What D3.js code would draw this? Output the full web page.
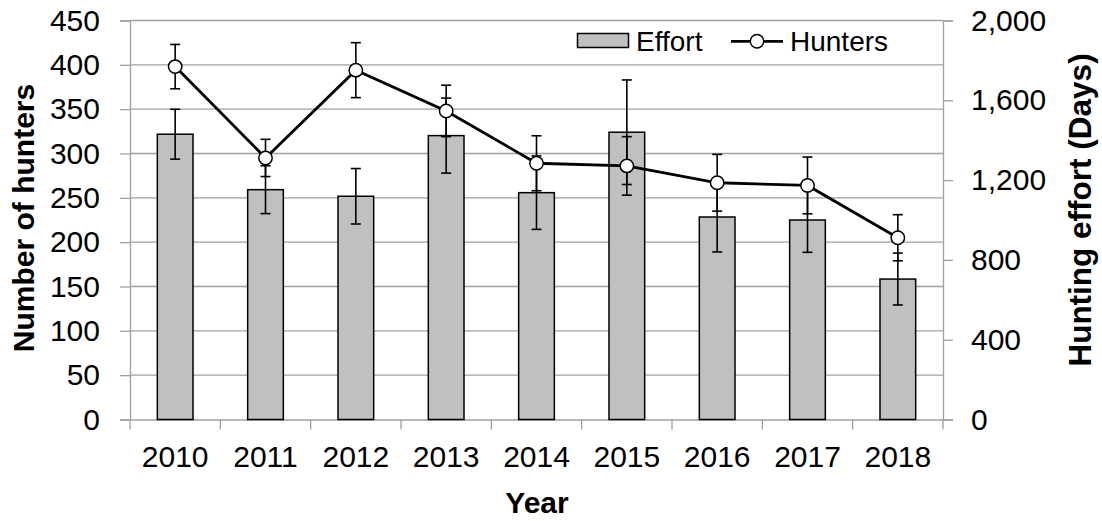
<!DOCTYPE html>
<html>
<head>
<meta charset="utf-8">
<script src="https://cdn.jsdelivr.net/npm/d3@7"></script>
<style>
  html, body { margin: 0; padding: 0; background: #fff; }
  svg text { font-family: "Liberation Sans", Arial, sans-serif; fill: #000; }
</style>
</head>
<body>
<svg id="chart" width="1102" height="521"></svg>
<script>
// Hunting season summary, 2010–2018
const years = ["2010", "2011", "2012", "2013", "2014", "2015", "2016", "2017", "2018"];
const hunters = [398, 295, 394, 348, 289, 286, 267, 264, 205];      // number of hunters
const huntersErr = [25, 21, 31, 29, 31, 33, 32, 32, 26];
const effort = [1430, 1152, 1119, 1423, 1137, 1440, 1015, 1000, 704]; // hunting effort (days)
const effortErr = [125, 120, 139, 188, 184, 262, 175, 162, 130];
const leftTicks = [0, 50, 100, 150, 200, 250, 300, 350, 400, 450];
const rightTicks = [0, 400, 800, 1200, 1600, 2000];

const svg = d3.select("#chart");
const plotL = 130, plotR = 943, plotT = 20.5, plotB = 419.5;
const gridColor = "#a0a0a0";

const x = d3.scaleBand().domain(years).range([plotL, plotR]).padding(0);
const yL = d3.scaleLinear().domain([0, 450]).range([plotB, plotT]);
const yR = d3.scaleLinear().domain([0, 2000]).range([plotB, plotT]);

// horizontal gridlines
svg.append("g").selectAll("line").data(leftTicks.filter(d => d > 0)).join("line")
  .attr("x1", plotL).attr("x2", plotR)
  .attr("y1", d => yL(d)).attr("y2", d => yL(d))
  .attr("stroke", gridColor).attr("stroke-width", 1.3);

// left axis
const axL = svg.append("g").attr("transform", `translate(${plotL},0)`)
  .call(d3.axisLeft(yL).tickValues(leftTicks).tickSize(10).tickPadding(20));
// right axis
const axR = svg.append("g").attr("transform", `translate(${plotR},0)`)
  .call(d3.axisRight(yR).tickValues(rightTicks).tickSize(10).tickPadding(18)
    .tickFormat(d3.format(",")));
// bottom axis with ticks between categories
const axB = svg.append("g").attr("transform", `translate(0,${plotB})`)
  .call(d3.axisBottom(x).tickSize(0).tickPadding(26));
axB.append("g").selectAll("line").data(d3.range(years.length + 1)).join("line")
  .attr("x1", i => plotL + i * x.bandwidth()).attr("x2", i => plotL + i * x.bandwidth())
  .attr("y1", 0).attr("y2", 10)
  .attr("stroke", gridColor).attr("stroke-width", 1.3);

[axL, axR, axB].forEach(g => {
  g.select(".domain").attr("stroke", gridColor).attr("stroke-width", 1.3);
  g.selectAll(".tick line").attr("stroke", gridColor).attr("stroke-width", 1.3);
  g.selectAll(".tick text").attr("font-size", 30)
    .attr("font-family", "Liberation Sans, Arial, sans-serif").attr("fill", "#000");
});
axB.selectAll(".tick text").attr("dy", "0.71em");

// effort bars
const bw = x.bandwidth() * 0.395;
const cx = d => x(d) + x.bandwidth() / 2;
svg.append("g").selectAll("rect").data(years).join("rect")
  .attr("x", d => cx(d) - bw / 2)
  .attr("y", (d, i) => yR(effort[i]))
  .attr("width", bw)
  .attr("height", (d, i) => yR(0) - yR(effort[i]))
  .attr("fill", "#c0c0c0").attr("stroke", "#000").attr("stroke-width", 1.5);

// error bar helper
function errorBars(vals, errs, scale) {
  const g = svg.append("g").attr("stroke", "#000").attr("stroke-width", 1.6);
  years.forEach((d, i) => {
    const xc = cx(d), hi = scale(vals[i] + errs[i]), lo = scale(vals[i] - errs[i]);
    g.append("line").attr("x1", xc).attr("x2", xc).attr("y1", hi).attr("y2", lo);
    g.append("line").attr("x1", xc - 5).attr("x2", xc + 5).attr("y1", hi).attr("y2", hi);
    g.append("line").attr("x1", xc - 5).attr("x2", xc + 5).attr("y1", lo).attr("y2", lo);
  });
}
errorBars(effort, effortErr, yR);
errorBars(hunters, huntersErr, yL);

// hunters line with markers
const line = d3.line().x(d => cx(d[0])).y(d => yL(d[1]));
const pts = years.map((d, i) => [d, hunters[i]]);
svg.append("path").datum(pts).attr("d", line)
  .attr("fill", "none").attr("stroke", "#000").attr("stroke-width", 2.8);
svg.append("g").selectAll("circle").data(pts).join("circle")
  .attr("cx", d => cx(d[0])).attr("cy", d => yL(d[1])).attr("r", 6.7)
  .attr("fill", "#fff").attr("stroke", "#000").attr("stroke-width", 1.5);

// legend
const lg = svg.append("g");
lg.append("rect").attr("x", 577.5).attr("y", 33.5).attr("width", 51).attr("height", 14)
  .attr("fill", "#c0c0c0").attr("stroke", "#000").attr("stroke-width", 1.5);
lg.append("text").attr("x", 636).attr("y", 51).attr("font-size", 28).text("Effort");
lg.append("line").attr("x1", 731).attr("x2", 783).attr("y1", 41.3).attr("y2", 41.3)
  .attr("stroke", "#000").attr("stroke-width", 2.8);
lg.append("circle").attr("cx", 757).attr("cy", 41.3).attr("r", 6.7)
  .attr("fill", "#fff").attr("stroke", "#000").attr("stroke-width", 1.5);
lg.append("text").attr("x", 790).attr("y", 51).attr("font-size", 28).text("Hunters");

// axis titles
svg.append("text").attr("transform", "translate(33.5,218) rotate(-90)")
  .attr("text-anchor", "middle").attr("font-size", 30).attr("font-weight", "bold")
  .text("Number of hunters");
svg.append("text").attr("transform", "translate(1091,210) rotate(-90)")
  .attr("text-anchor", "middle").attr("font-size", 31.5).attr("font-weight", "bold")
  .text("Hunting effort (Days)");
svg.append("text").attr("x", 537).attr("y", 513)
  .attr("text-anchor", "middle").attr("font-size", 30).attr("font-weight", "bold")
  .text("Year");
</script>
</body>
</html>
